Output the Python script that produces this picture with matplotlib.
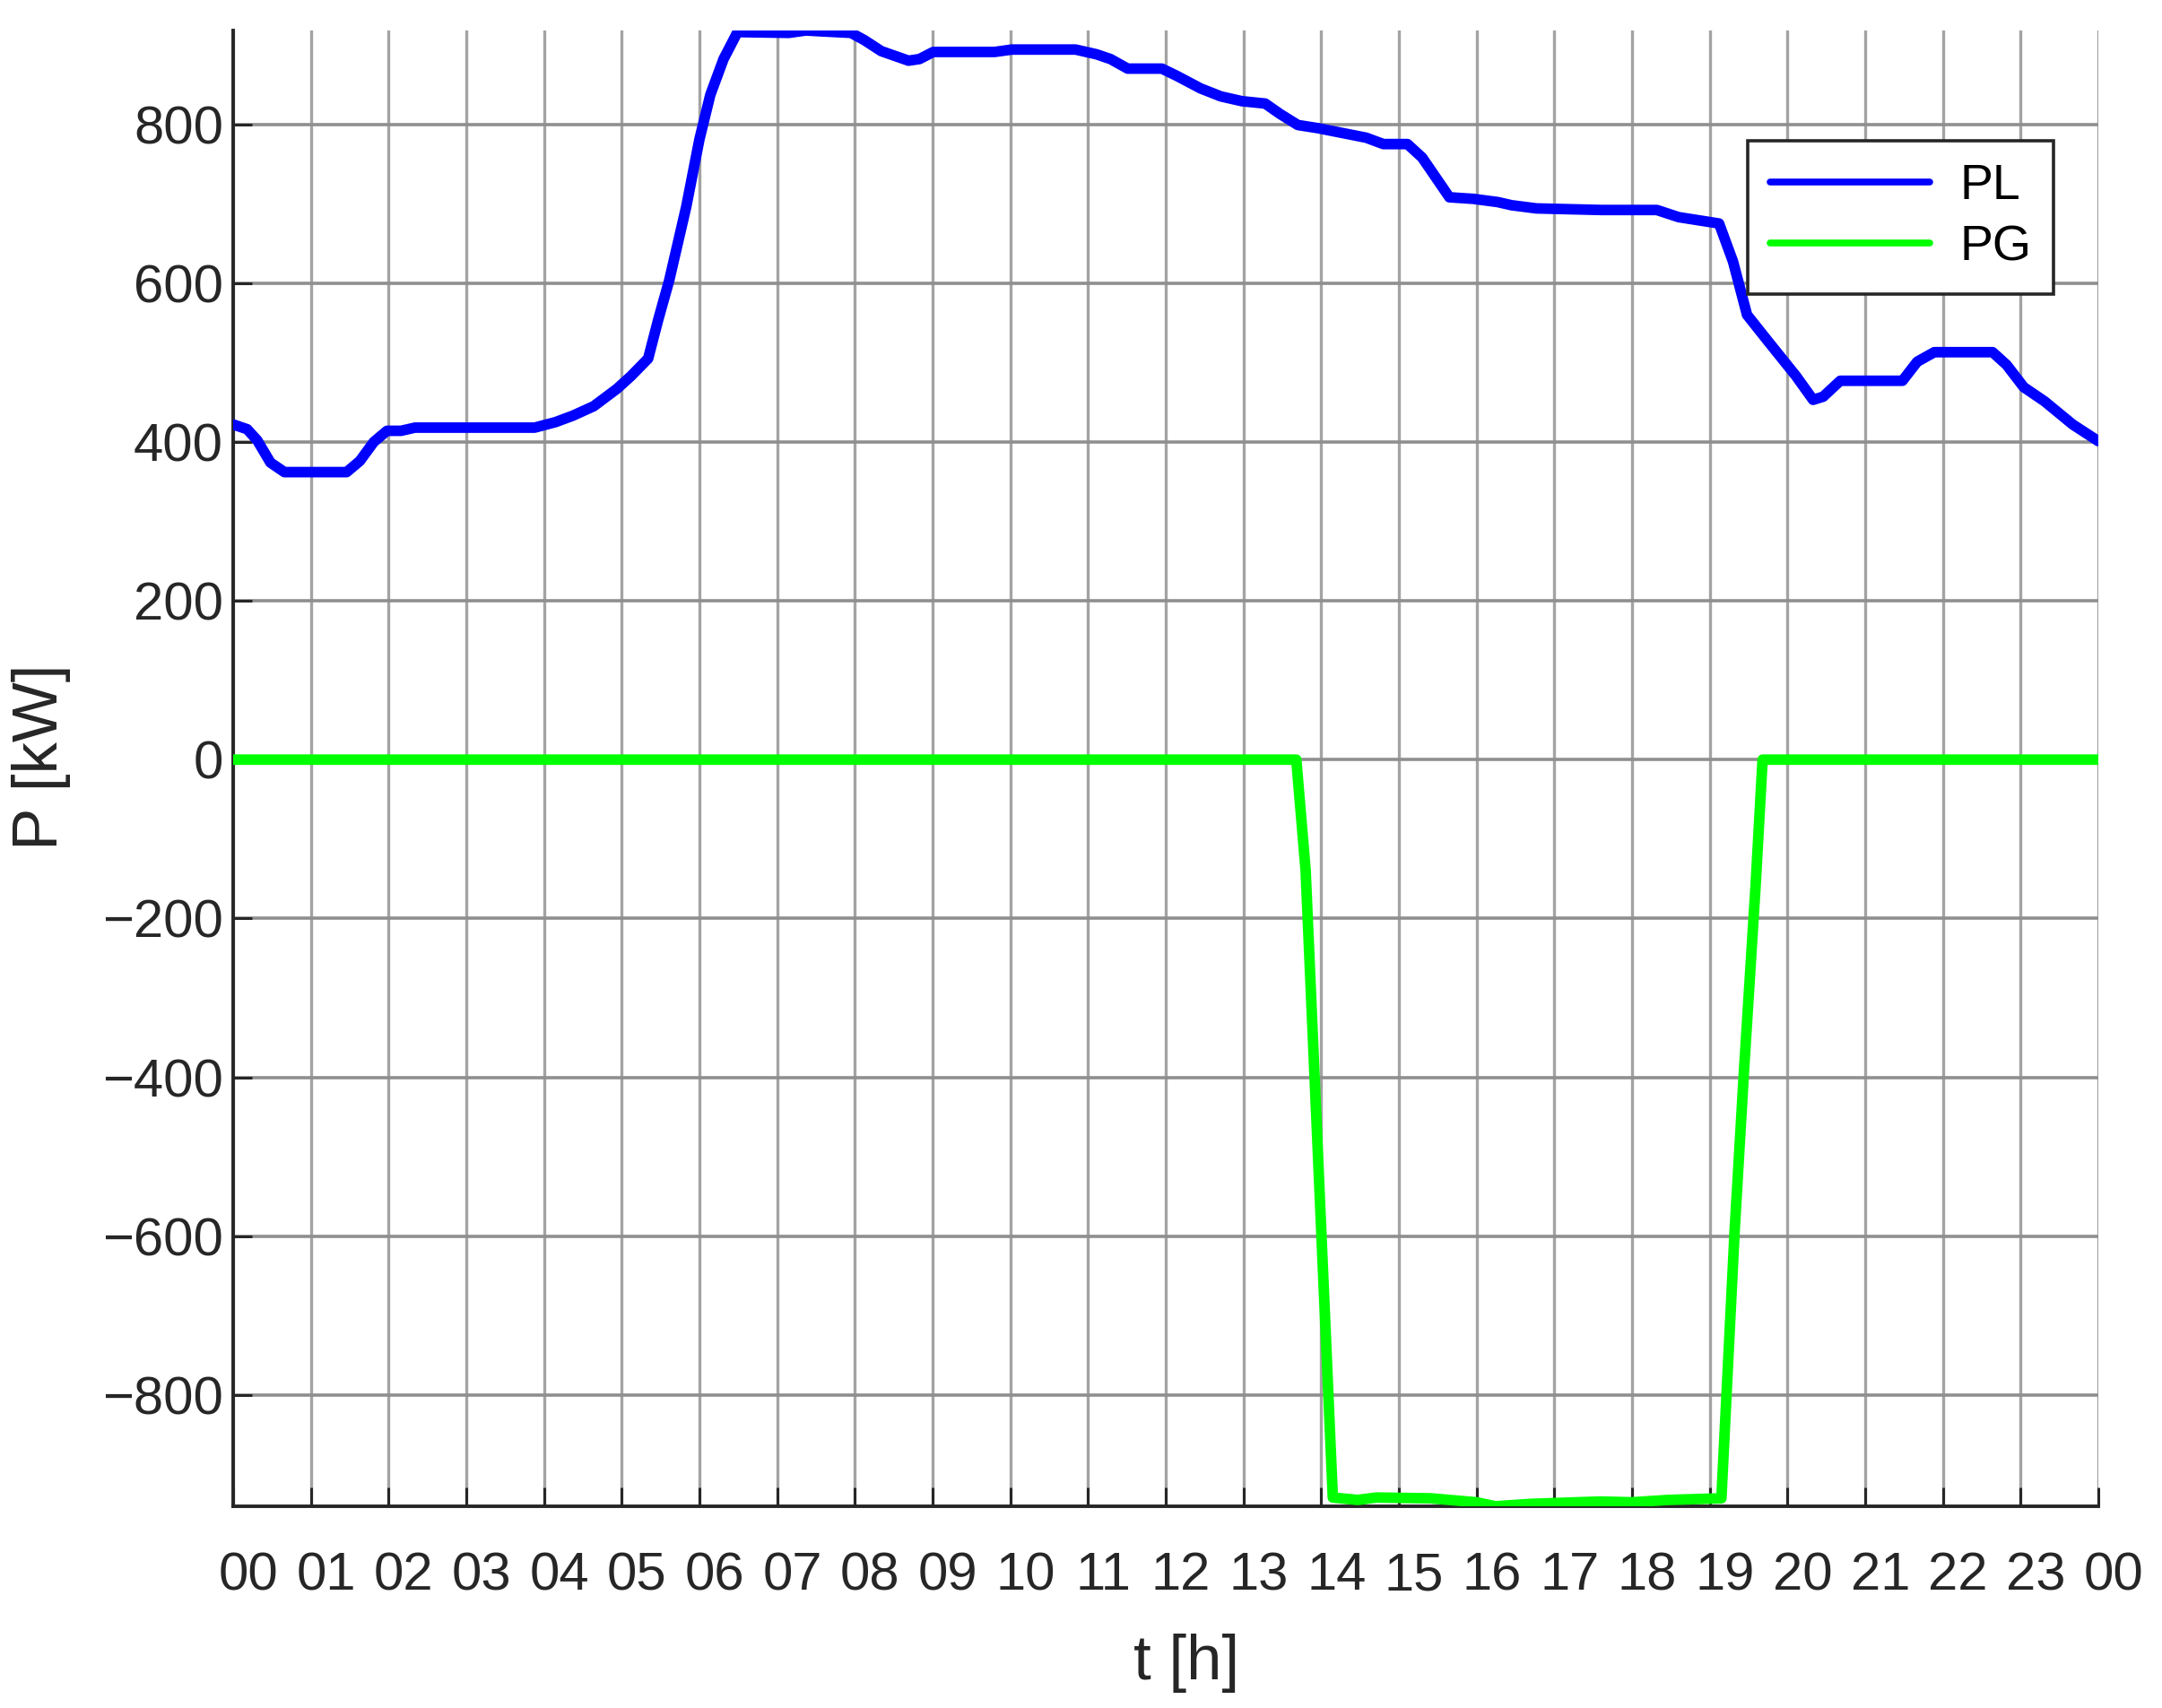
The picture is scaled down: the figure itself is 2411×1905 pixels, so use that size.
import numpy as np
import matplotlib
matplotlib.use('Agg')
import matplotlib.pyplot as plt
import matplotlib.transforms as mtransforms

# load PL [kW]
t_pl = [0.0, 0.18, 0.31, 0.48, 0.66, 1.46, 1.63, 1.81, 1.98, 2.16, 2.34, 3.88,
        4.15, 4.37, 4.64, 4.94, 5.12, 5.34, 5.47, 5.61, 5.83, 6.00, 6.14, 6.31,
        6.49, 7.15, 7.37, 7.55, 7.95, 8.12, 8.34, 8.69, 8.83, 9.01, 9.80, 10.02,
        10.84, 11.11, 11.29, 11.51, 11.95, 12.14, 12.45, 12.71, 12.98, 13.28,
        13.47, 13.70, 13.96, 14.27, 14.58, 14.80, 15.11, 15.30, 15.65, 15.96,
        16.27, 16.45, 16.77, 17.61, 18.32, 18.60, 19.12, 19.30, 19.48, 19.74,
        20.11, 20.33, 20.46, 20.68, 21.48, 21.67, 21.89, 22.64, 22.82, 23.04,
        23.31, 23.67, 24.0]
pl = [422, 416, 402, 374, 362, 362, 376, 400, 414, 414, 418, 418,
      425, 433, 445, 467, 483, 505, 554, 603, 696, 781, 837, 882,
      916, 915, 918, 917, 915, 906, 892, 880, 882, 891, 891, 894,
      894, 888, 882, 870, 870, 861, 845, 835, 829, 826,
      813, 799, 795, 789, 783, 775, 775, 758, 708, 706,
      702, 698, 694, 692, 692, 683, 675, 627, 560, 528,
      483, 453, 457, 477, 477, 501, 513, 513, 497, 469,
      451, 422, 401]

# grid power PG [kW]
t_pg = [0.0, 13.68, 13.80, 14.15, 14.47, 14.71, 15.41, 16.0, 16.24, 16.7,
        17.59, 18.0, 18.47, 19.15, 19.32, 19.44, 19.59, 19.68, 24.0]
pg = [0, 0, -139, -929, -932, -929, -930, -935, -940, -937,
      -934, -935, -932, -930, -594, -393, -159, 0, 0]

hour_ticks = list(range(25))
hour_labels = ['%02d' % (h % 24) for h in hour_ticks]
p_ticks = list(range(-800, 801, 200))

plt.rcParams['font.family'] = ['Liberation Sans', 'DejaVu Sans']
txt = '#262626'

fig = plt.figure(figsize=(24.11, 19.05), dpi=100)
ax = fig.add_axes([0.10784, 0.11811, 0.8627, 0.86404])

ax.plot(t_pl, pl, color=(0, 0, 1), lw=8.5, solid_joinstyle='round',
        solid_capstyle='round', label='PL', zorder=3)
ax.plot(t_pg, pg, color=(0, 1, 0), lw=8.5, solid_joinstyle='round',
        solid_capstyle='round', label='PG', zorder=3)

ax.set_xlim(0, 24)
ax.set_ylim(min(pg), max(pl))
ax.set_xticks(hour_ticks)
ax.set_xticklabels(hour_labels)
ax.set_yticks(p_ticks)

ax.xaxis.grid(True, color='#a3a3a3', lw=2.4)
ax.yaxis.grid(True, color='#8f8f8f', lw=2.6)
ax.set_axisbelow(True)

for s in ['top', 'right']:
    ax.spines[s].set_visible(False)
for s in ['left', 'bottom']:
    ax.spines[s].set_color(txt)
    ax.spines[s].set_linewidth(2.8)

ax.tick_params(axis='both', direction='in', length=15, width=2.2,
               colors=txt, labelsize=43)
ax.tick_params(axis='x', pad=36)
ax.tick_params(axis='y', pad=8)

# tick labels sit a little right of their ticks in the original
shift = mtransforms.ScaledTranslation(0.17, 0, fig.dpi_scale_trans)
for lab in ax.get_xticklabels():
    lab.set_transform(lab.get_transform() + shift)

ax.set_xlabel('t [h]', fontsize=51, color=txt)
ax.set_ylabel('P [kW]', fontsize=51, color=txt)
ax.xaxis.set_label_coords(0.511, -0.086)
ax.yaxis.set_label_coords(-0.087, 0.508)

leg = ax.legend(loc='upper right', bbox_to_anchor=(0.950, 0.9176),
                bbox_transform=fig.transFigure, borderaxespad=0, fontsize=40,
                handlelength=3.2, handletextpad=0.6, labelspacing=0.3,
                borderpad=0.45, fancybox=False, framealpha=1)
leg.get_frame().set_edgecolor(txt)
leg.get_frame().set_linewidth(2.6)
for line in leg.get_lines():
    line.set_linewidth(5.5)

fig.savefig('out.png', dpi=100)
